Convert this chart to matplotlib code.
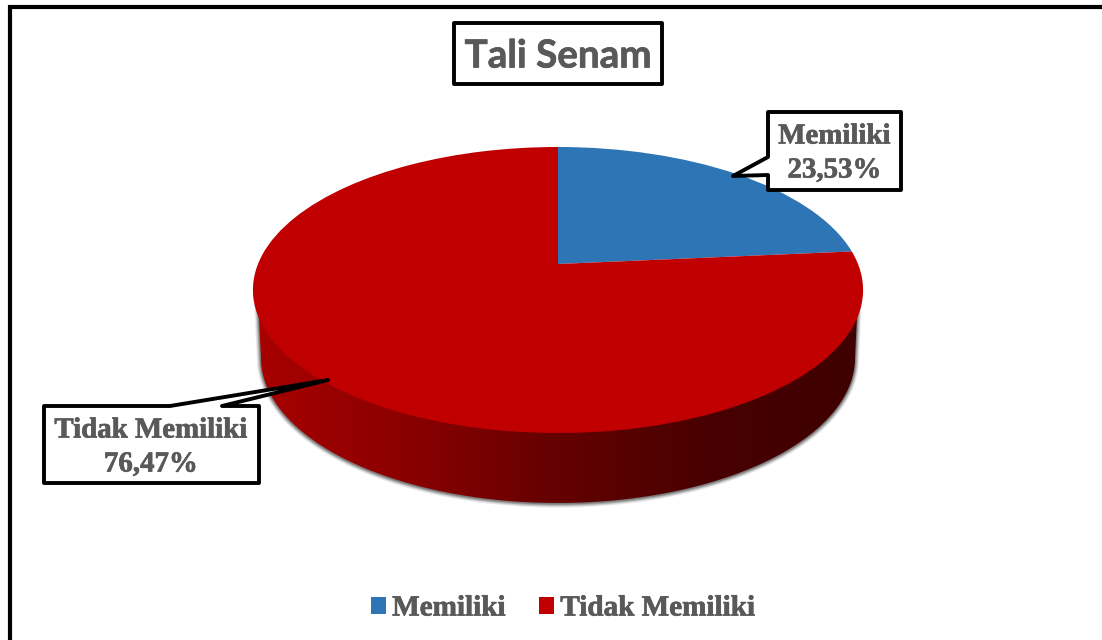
import numpy as np
import matplotlib
matplotlib.use("Agg")
import matplotlib.pyplot as plt
import matplotlib.patheffects as pe
from matplotlib.transforms import Transform
from matplotlib.patches import Polygon, Rectangle

kategori = ["Memiliki", "Tidak Memiliki"]
nilai = [23.53, 76.47]
warna = ["#2E75B6", "#C00000"]
judul = "Tali Senam"

abu = "#595959"
serif = "Liberation Serif"
tebal = [pe.withStroke(linewidth=0.5, foreground=abu)]


# tilted disc: unit circle -> screen pixels, apex sits above the ellipse centre
def proyeksi(xy, a=300.0, b=138.3, k=0.1818, cx=558.0, cy=264.0):
    u, v = xy[:, 0], xy[:, 1]
    w = 1 + k * v
    return np.column_stack([cx + a * u / w, cy - b * v / w])


class Miring(Transform):
    input_dims = 2
    output_dims = 2

    def transform_non_affine(self, values):
        return proyeksi(np.asarray(values, dtype=float))


fig = plt.figure(figsize=(11.02, 6.40), dpi=100)
ax = fig.add_axes([0, 0, 1, 1])

wedges, _ = ax.pie(nilai, colors=warna, startangle=90, counterclock=False)
ax.set_aspect("auto")
ax.set_xlim(0, 1102)
ax.set_ylim(640, 0)
ax.axis("off")

for w in wedges:
    w.set_transform(Miring() + ax.transData)
    w.set_linewidth(0)
    w.set_zorder(5)

# side wall of the pie
t = np.linspace(np.pi, 2 * np.pi, 200)
bx = 558 + 297 * np.cos(t)
by = 358 - 145 * np.sin(t)
sisi = np.vstack([[258, 296], np.column_stack([bx, by]), [858, 296]])

grad = matplotlib.colors.LinearSegmentedColormap.from_list(
    "sisi", ["#A80000", "#8A0000", "#640000", "#480000", "#3E0000"])
img = ax.imshow(np.linspace(0, 1, 256)[None, :], cmap=grad, aspect="auto",
                extent=(254, 862, 510, 280), zorder=3)
clip = Polygon(sisi, closed=True, transform=ax.transData, fill=False, lw=0)
ax.add_patch(clip)
img.set_clip_path(clip)
ax.set_xlim(0, 1102)
ax.set_ylim(640, 0)

# soft shadow round the lower edge
for lw, al in [(6, 0.10), (4.5, 0.15), (3, 0.25), (1.5, 0.35)]:
    ax.plot(sisi[:, 0], sisi[:, 1] + 0.5, color="#333333", lw=lw, alpha=al, zorder=2,
            solid_capstyle="butt")

# outer frame, only top and left are in view
ax.plot([9.5, 9.5, 1102], [640, 7, 7], color="black", lw=3, zorder=1, solid_joinstyle="miter")


def kotak(titik):
    ax.add_patch(Polygon(titik, closed=True, facecolor="white", edgecolor="black",
                         lw=2.8, joinstyle="round", zorder=6))


def tulis(x, y, s):
    ax.text(x, y, s, fontsize=20.8, fontweight="bold", family=serif, color=abu,
            ha="center", va="center", zorder=7, path_effects=tebal)


kotak([(454, 23), (662, 23), (662, 84), (454, 84)])
ax.text(558, 56, judul, fontsize=27.8, fontweight="bold", family="Lato", color=abu,
        ha="center", va="center", zorder=7, path_effects=tebal)

kotak([(768, 112), (901, 112), (901, 190), (768, 190), (768, 175), (733, 176), (768, 157)])
kotak([(44, 406), (170, 406), (328, 380), (222, 406), (259, 406), (259, 483), (44, 483)])

tulis(834.5, 136, kategori[0])
tulis(834.5, 170, f"{nilai[0]:.2f}%".replace(".", ","))
tulis(151, 430, kategori[1])
tulis(151, 464, f"{nilai[1]:.2f}%".replace(".", ","))

handles = [Rectangle((0, 0), 1, 1, color=c, lw=0) for c in warna]
leg = ax.legend(handles, kategori, ncol=2, frameon=False, loc="center",
                bbox_to_anchor=(562.5 / 1102, 1 - 608 / 640),
                prop={"family": serif, "weight": "bold", "size": 21}, labelcolor=abu,
                handlelength=0.52, handleheight=0.52, handletextpad=0.22, columnspacing=1.15)
for txt in leg.get_texts():
    txt.set_path_effects(tebal)

plt.savefig("out.png", dpi=100, facecolor="white")
